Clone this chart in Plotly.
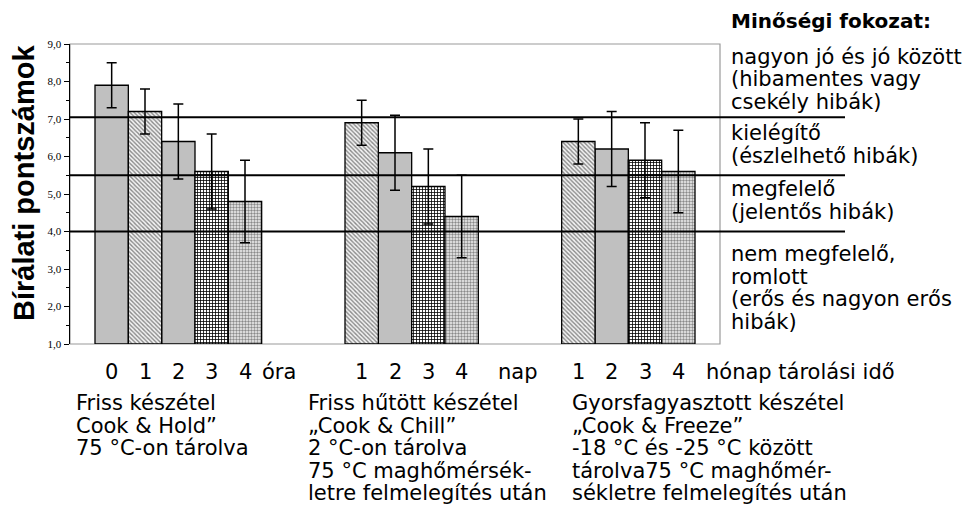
import plotly.graph_objects as go

# ---------------- data ----------------
g1_labels = ["0", "1", "2", "3", "4"]
g1_values = [7.9, 7.2, 6.4, 5.6, 4.8]
g1_err = [0.6, 0.6, 1.0, 1.0, 1.1]
g1_fill = ["solid", "diag", "solid", "grid", "dots"]

g2_labels = ["1", "2", "3", "4"]
g2_values = [6.9, 6.1, 5.2, 4.4]
g2_err = [0.6, 1.0, 1.0, 1.1]
g2_fill = ["diag", "solid", "grid", "dots"]

g3_labels = ["1", "2", "3", "4"]
g3_values = [6.4, 6.2, 5.9, 5.6]
g3_err = [0.6, 1.0, 1.0, 1.1]
g3_fill = ["diag", "solid", "grid", "dots"]

unit_labels = ["óra", "nap", "hónap tárolási idő"]

g1_desc = ["Friss készétel", "Cook & Hold”", "75 °C-on tárolva"]
g2_desc = ["Friss hűtött készétel", "„Cook & Chill”", "2 °C-on tárolva",
           "75 °C maghőmérsék-", "letre felmelegítés után"]
g3_desc = ["Gyorsfagyasztott készétel", "„Cook & Freeze”", "-18 °C és -25 °C között",
           "tárolva75 °C maghőmér-", "sékletre felmelegítés után"]

threshold_values = [7.05, 5.5, 4.0]

grade_title = "Minőségi fokozat:"
grade_texts = [
    ["nagyon jó és jó között", "(hibamentes vagy", "csekély hibák)"],
    ["kielégítő", "(észlelhető hibák)"],
    ["megfelelő", "(jelentős hibák)"],
    ["nem megfelelő,", "romlott", "(erős és nagyon erős", "hibák)"],
]

y_tick_vals = [1, 2, 3, 4, 5, 6, 7, 8, 9]
y_tick_text = ["1,0", "2,0", "3,0", "4,0", "5,0", "6,0", "7,0", "8,0", "9,0"]
y_title = "Bírálati pontszámok"

# ---------------- layout helpers ----------------
W, H = 965, 521
PL, PR, PT, PB = 70, 720, 44, 344  # plot area in pixels


def px(X):
    return (X - PL) / (PR - PL)


def py(Y):
    return (PB - Y) / (PB - PT)


group_starts = [0.75, 8.25, 14.75]
groups = [
    (g1_labels, g1_values, g1_err, g1_fill),
    (g2_labels, g2_values, g2_err, g2_fill),
    (g3_labels, g3_values, g3_err, g3_fill),
]

fill_styles = {
    "solid": dict(color="#c0c0c0", pattern=None),
    "diag": dict(color="#ffffff", pattern=dict(shape="\\", fgcolor="#888888", bgcolor="#f4f4f4",
                                               size=3, solidity=0.45, fillmode="replace")),
    "grid": dict(color="#ffffff", pattern=dict(shape="+", fgcolor="#000000", bgcolor="#ffffff",
                                               size=3, solidity=0.45, fillmode="replace")),
    "dots": dict(color="#ffffff", pattern=dict(shape=".", fgcolor="#8a8a8a", bgcolor="#f4f4f4",
                                               size=3, solidity=0.5, fillmode="replace")),
}

by_fill = {k: dict(x=[], y=[], e=[]) for k in fill_styles}
tick_x, tick_t = [], []
for start, (labels, values, err, fills) in zip(group_starts, groups):
    for i, (lab, v, e, f) in enumerate(zip(labels, values, err, fills)):
        x = start + 0.5 + i
        by_fill[f]["x"].append(x)
        by_fill[f]["y"].append(v - 1.0)
        by_fill[f]["e"].append(e)
        tick_x.append(x)
        tick_t.append(lab)

fig = go.Figure()
for f, d in by_fill.items():
    st = fill_styles[f]
    marker = dict(color=st["color"], line=dict(color="black", width=1.3))
    if st["pattern"] is not None:
        marker["pattern"] = st["pattern"]
    fig.add_trace(go.Bar(
        x=d["x"], y=d["y"], base=1.0, width=1.0, marker=marker,
        error_y=dict(type="data", array=d["e"], color="black", thickness=1.5, width=5),
        showlegend=False, hoverinfo="skip",
    ))

FONT = "DejaVu Sans, sans-serif"
FS = 21
ann = []

# tick labels under bars
for x, t in zip(tick_x, tick_t):
    ann.append(dict(x=x, xref="x", y=py(372), yref="paper", text=t, showarrow=False,
                    xanchor="center", yanchor="middle", font=dict(family=FONT, size=FS, color="black")))

unit_pos = [279, 518, 800]
for u, X in zip(unit_labels, unit_pos):
    ann.append(dict(x=px(X), xref="paper", y=py(372), yref="paper", text=u, showarrow=False,
                    xanchor="center", yanchor="middle", font=dict(family=FONT, size=FS, color="black")))

desc_x = [74, 306, 570]
desc_y0 = 403
for lines, X in zip([g1_desc, g2_desc, g3_desc], desc_x):
    for j, line in enumerate(lines):
        ann.append(dict(x=px(X), xref="paper", y=py(desc_y0 + 22.5 * j), yref="paper",
                        text=line, showarrow=False, xanchor="left", yanchor="middle",
                        font=dict(family=FONT, size=FS, color="black")))

# right-hand grade texts
RX = 729
ann.append(dict(x=px(RX), xref="paper", y=py(21), yref="paper", text="<b>" + grade_title + "</b>",
                showarrow=False, xanchor="left", yanchor="middle",
                font=dict(family=FONT, size=FS - 1, color="black")))
grade_y0 = [57, 133, 189, 254]
for lines, Y0 in zip(grade_texts, grade_y0):
    for j, line in enumerate(lines):
        ann.append(dict(x=px(RX), xref="paper", y=py(Y0 + 22.5 * j), yref="paper",
                        text=line, showarrow=False, xanchor="left", yanchor="middle",
                        font=dict(family=FONT, size=FS, color="black")))

# y title
ann.append(dict(x=px(24), xref="paper", y=py(183), yref="paper", text="<b>" + y_title + "</b>",
                textangle=-90, showarrow=False, xanchor="center", yanchor="middle",
                font=dict(family="Liberation Sans, Arial, sans-serif", size=29, color="black")))

shapes_l = [
    dict(type="rect", xref="paper", yref="paper", x0=0, x1=1, y0=0, y1=1,
         line=dict(color="#9a9a9a", width=1.2), layer="below"),
]
for v in threshold_values:
    shapes_l.append(dict(type="line", xref="paper", yref="y", x0=0, x1=px(845), y0=v, y1=v,
                         line=dict(color="black", width=2), layer="above"))

fig.update_layout(
    width=W, height=H,
    margin=dict(l=PL, r=W - PR, t=PT, b=H - PB, pad=0),
    paper_bgcolor="white", plot_bgcolor="white",
    xaxis=dict(range=[0, 19.5], showticklabels=False, ticks="", showgrid=False,
               zeroline=False, showline=False),
    yaxis=dict(range=[1, 9], tickvals=y_tick_vals, ticktext=y_tick_text,
               ticks="outside", ticklen=5, tickwidth=1, tickcolor="black",
               showline=True, linecolor="black", linewidth=1.5,
               showgrid=False, zeroline=False,
               tickfont=dict(family="Liberation Serif, Times New Roman, serif", size=11, color="black"),
               minor=dict(dtick=0.5, ticks="outside", ticklen=3, tickcolor="black", showgrid=False)),
    annotations=ann,
    shapes=shapes_l,
    bargap=0,
    barmode="overlay",
)

fig.write_html("out.html", config={"displayModeBar": False, "staticPlot": True},
               post_script="document.body.style.margin='0';document.body.style.overflow='hidden';")
